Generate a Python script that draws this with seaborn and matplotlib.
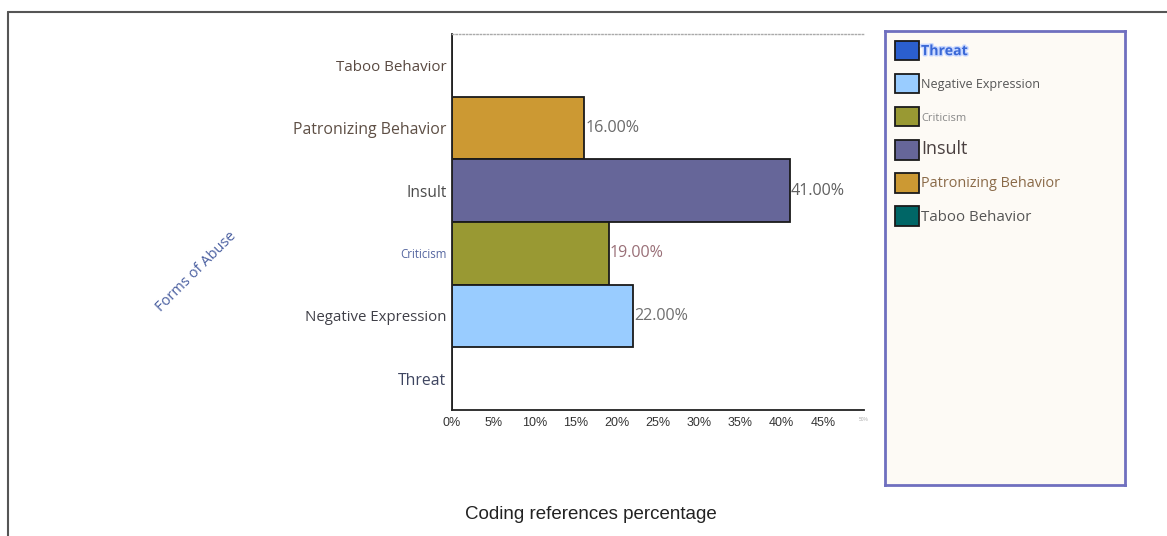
import matplotlib
matplotlib.use("Agg")
import matplotlib.pyplot as plt
import matplotlib.patheffects as pe
from matplotlib.patches import Patch
from matplotlib.lines import Line2D
import seaborn as sns
import pandas as pd

# ---- data ----
categories = ["Taboo Behavior", "Patronizing Behavior", "Insult",
              "Criticism", "Negative Expression", "Threat"]
values = [0, 16, 41, 19, 22, 0]
colors = ["#006666", "#cc9933", "#666699", "#999933", "#99ccff", "#2b5fce"]
xtick_vals = [0, 5, 10, 15, 20, 25, 30, 35, 40, 45, 50]
xtick_labels = ["0%", "5%", "10%", "15%", "20%", "25%", "30%", "35%", "40%", "45%", "50%"]
legend_order = ["Threat", "Negative Expression", "Criticism", "Insult",
                "Patronizing Behavior", "Taboo Behavior"]

df = pd.DataFrame({"category": categories, "value": values})
palette = dict(zip(categories, colors))

sns.set_theme(style="white")
plt.rcParams["font.family"] = ["Open Sans", "DejaVu Sans"]

fig = plt.figure(figsize=(11.67, 5.36), dpi=100)
ax = fig.add_axes([0.3873, 0.2351, 0.3531, 0.7015])

sns.barplot(data=df, x="value", y="category", hue="category", order=categories,
            hue_order=categories, palette=palette, width=1.0, dodge=False,
            edgecolor="#1a1a1a", linewidth=1.3, legend=False, ax=ax, saturation=1)

ax.set_xlim(0, 50)
ax.set_xticks(xtick_vals)
ax.set_xticklabels(xtick_labels)
for i, t in enumerate(ax.get_xticklabels()):
    t.set_family(["Liberation Sans", "DejaVu Sans"])
    if i == len(xtick_vals) - 1:
        t.set_fontsize(3.5)
        t.set_color("#aaaaaa")
    else:
        t.set_fontsize(9)
        t.set_color("#333333")
ax.tick_params(axis="x", length=0, pad=5)
ax.tick_params(axis="y", length=0, pad=4)

ylab_style = {
    "Taboo Behavior": ("#5a4a42", 10.9),
    "Patronizing Behavior": ("#5e4f45", 11.4),
    "Insult": ("#4a4a4a", 11.2),
    "Criticism": ("#5566a0", 8.3),
    "Negative Expression": ("#404048", 10.8),
    "Threat": ("#3e4560", 11.3),
}
for t in ax.get_yticklabels():
    c, s = ylab_style[t.get_text()]
    t.set_color(c)
    t.set_fontsize(s)

ax.set_xlabel("")
ax.set_ylabel("")

# spines
ax.spines["right"].set_visible(False)
ax.spines["top"].set_linestyle((0, (1, 1.5)))
ax.spines["top"].set_color("#aaaaaa")
ax.spines["top"].set_linewidth(1)
ax.spines["left"].set_color("#222222")
ax.spines["bottom"].set_color("#222222")
ax.spines["left"].set_linewidth(1.3)
ax.spines["bottom"].set_linewidth(1.3)

# value labels
label_colors = {"Patronizing Behavior": "#6a6a6a", "Insult": "#606060",
                "Criticism": "#9a7078", "Negative Expression": "#707070"}
for cont in ax.containers:
    for bar in cont:
        w = bar.get_width()
        if w <= 0:
            continue
        yc = bar.get_y() + bar.get_height() / 2
        idx = int(round(yc))
        cat = categories[idx]
        ax.text(w + 0.15, yc, f"{w:.2f}%", va="center", ha="left",
                fontsize=11.6, color=label_colors.get(cat, "#666666"))

# axis titles
fig.text(0.506, 0.04, "Coding references percentage", ha="center", va="center",
         fontsize=13.5, color="#222222", family=["Liberation Sans", "DejaVu Sans"])
fig.text(0.168, 0.493, "Forms of Abuse", ha="center", va="center", rotation=45,
         fontsize=10.5, color="#4a5fa0")

# outer frame lines
fig.add_artist(Line2D([0.0069, 1.0], [0.9776, 0.9776], transform=fig.transFigure,
                      color="#555555", linewidth=1.5))
fig.add_artist(Line2D([0.0069, 0.0069], [0.0, 0.9776], transform=fig.transFigure,
                      color="#555555", linewidth=1.5))

# legend panel
lax = fig.add_axes([0.7584, 0.0951, 0.2057, 0.847])
lax.set_facecolor("#fdfaf5")
lax.set_xticks([])
lax.set_yticks([])
for s in lax.spines.values():
    s.set_color("#6f6fbf")
    s.set_linewidth(2)

handles = [Patch(facecolor=palette[c], edgecolor="#1a1a1a", linewidth=1.3)
           for c in legend_order]
leg = lax.legend(handles, legend_order, loc="upper left", frameon=False,
                 bbox_to_anchor=(0.0, 1.0), handlelength=1.75, handleheight=1.75,
                 handletextpad=0.12, labelspacing=1.0, borderpad=0.72,
                 borderaxespad=0.0, fontsize=10)
leg_style = {
    "Threat": ("#3a68d6", 10.2),
    "Negative Expression": ("#555555", 9),
    "Criticism": ("#888888", 8),
    "Insult": ("#4a4040", 13),
    "Patronizing Behavior": ("#8a6a48", 10.4),
    "Taboo Behavior": ("#555555", 10.8),
}
for t in leg.get_texts():
    c, s = leg_style[t.get_text()]
    t.set_color(c)
    t.set_fontsize(s)
    if t.get_text() == "Threat":
        t.set_fontweight("bold")
        t.set_path_effects([pe.withStroke(linewidth=2, foreground="#c9d8ff")])

fig.savefig("out.png", dpi=100, facecolor="white")
